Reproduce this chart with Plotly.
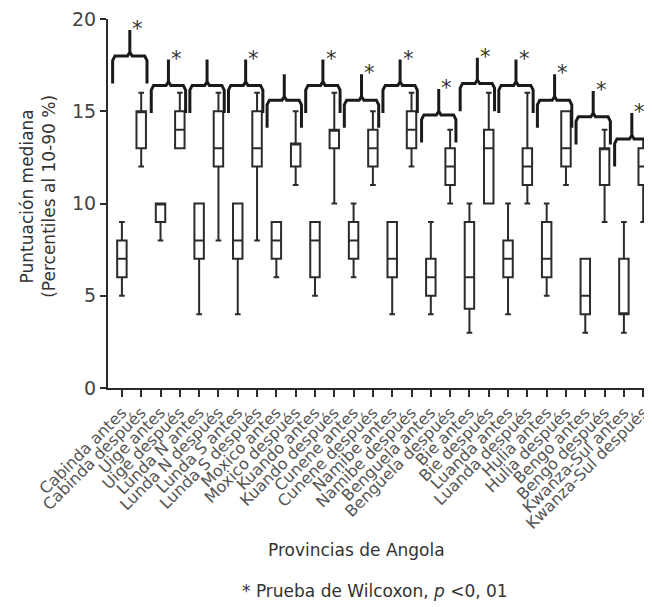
import plotly.graph_objects as go

# ---- data ----
provinces = ["Cabinda", "Uige", "Lunda N", "Lunda S", "Moxico", "Kuando", "Cunene",
             "Namibe", "Benguela", "Bie", "Luanda", "Hulia", "Bengo", "Kwanza-Sul"]
categories = []
for p in provinces:
    categories += [p + " antes", p + " después"]

lower  = [5, 12, 8, 13, 4, 8, 4, 8, 6, 11, 5, 10, 6, 11, 4, 12, 4, 10, 3, 10, 4, 10, 5, 11, 3, 9, 3, 9]
q1     = [6, 13, 9, 13, 7, 12, 7, 12, 7, 12, 6, 13, 7, 12, 6, 13, 5, 11, 4.3, 10, 6, 11, 6, 12, 4, 11, 4, 11]
median = [7, 15, 10, 14, 8, 13, 8, 13, 8, 13.25, 8, 14, 8, 13, 7, 14, 6, 12, 6, 13, 7, 12, 7, 13, 5, 13, 4, 12]
q3     = [8, 15, 10, 15, 10, 15, 10, 15, 9, 13.25, 9, 14, 9, 14, 9, 15, 7, 13, 9, 14, 8, 13, 9, 15, 7, 13, 7, 13]
upper  = [9, 16, 10, 16, 10, 16, 10, 16, 9, 15, 9, 16, 10, 15, 9, 16, 9, 14, 10, 16, 10, 16, 10, 15, 7, 14, 9, 13.5]

# bracket level above each province pair and Wilcoxon significance
bracket_level = [18.0, 16.4, 16.4, 16.4, 15.6, 16.4, 15.6, 16.4, 14.8, 16.5, 16.4, 15.6, 14.7, 13.5]
significant   = [True, True, False, True, False, True, True, True, True, True, True, True, True, True]

yticks = [0, 5, 10, 15, 20]

FONT = "DejaVu Sans"
DARK = "#2b2b2b"

xpos = list(range(len(categories)))

fig = go.Figure()
fig.add_trace(go.Box(
    x=xpos, q1=q1, median=median, q3=q3, lowerfence=lower, upperfence=upper,
    line=dict(color=DARK, width=2), fillcolor="rgba(255,255,255,0)",
    whiskerwidth=0.6, boxpoints=False, showlegend=False, hoverinfo="skip",
))

# brackets
bx, by = [], []
ann = []
for k, h in enumerate(bracket_level):
    i = 2 * k
    L, C, R = i - 0.48, i + 0.41, i + 1.3
    leg, stem = 1.5, 1.4
    bx += [L, L, L + 0.12, C - 0.12, C, C, None, C, C + 0.12, R - 0.12, R, R, None]
    by += [h - leg, h - 0.25, h, h, h + 0.2, h + stem, None, h + 0.2, h, h, h - 0.25, h - leg, None]
    if significant[k]:
        ann.append(dict(x=C + 0.42, y=h + stem + 0.05, xref="x", yref="y", text="*",
                        showarrow=False, font=dict(size=21, color="#333", family=FONT),
                        xanchor="center", yanchor="middle"))

fig.add_trace(go.Scatter(x=bx, y=by, mode="lines", line=dict(color="#1a1a1a", width=3),
                         showlegend=False, hoverinfo="skip"))

ann += [
    dict(x=-0.13, y=0.52, xref="paper", yref="paper", textangle=-90,
         text="Puntuación mediana<br>(Percentiles al 10-90 %)", showarrow=False,
         font=dict(size=17, color="#333", family=FONT), xanchor="center", yanchor="middle"),
    dict(x=0.46, y=-0.439, xref="paper", yref="paper", text="Provincias de Angola",
         showarrow=False, font=dict(size=17, color="#333", family=FONT),
         xanchor="center", yanchor="middle"),
    dict(x=0.494, y=-0.549, xref="paper", yref="paper",
         text="* Prueba de Wilcoxon, <i>p</i> &lt;0, 01",
         showarrow=False, font=dict(size=17, color="#333", family=FONT),
         xanchor="center", yanchor="middle"),
]

fig.update_layout(
    width=644, height=599,
    margin=dict(l=100, r=0, t=8, b=219),
    paper_bgcolor="white", plot_bgcolor="white",
    font=dict(family=FONT, color="#333"),
    annotations=ann,
    xaxis=dict(range=[-0.72, 27.3], tickmode="array", tickvals=xpos, ticktext=categories,
               tickangle=-45, tickfont=dict(size=16, color="#555", family=FONT),
               ticklabeloverflow="allow",
               showline=True, linecolor=DARK, linewidth=2, ticks="outside", ticklen=7,
               tickwidth=2, tickcolor=DARK, showgrid=False, zeroline=False),
    yaxis=dict(range=[0, 20], tickvals=yticks, tickfont=dict(size=19, color="#444", family=FONT),
               ticklabeloverflow="allow",
               showline=True, linecolor=DARK, linewidth=2, ticks="outside", ticklen=6,
               tickwidth=2, tickcolor=DARK, showgrid=False, zeroline=False),
)

fig.write_html("out.html")
